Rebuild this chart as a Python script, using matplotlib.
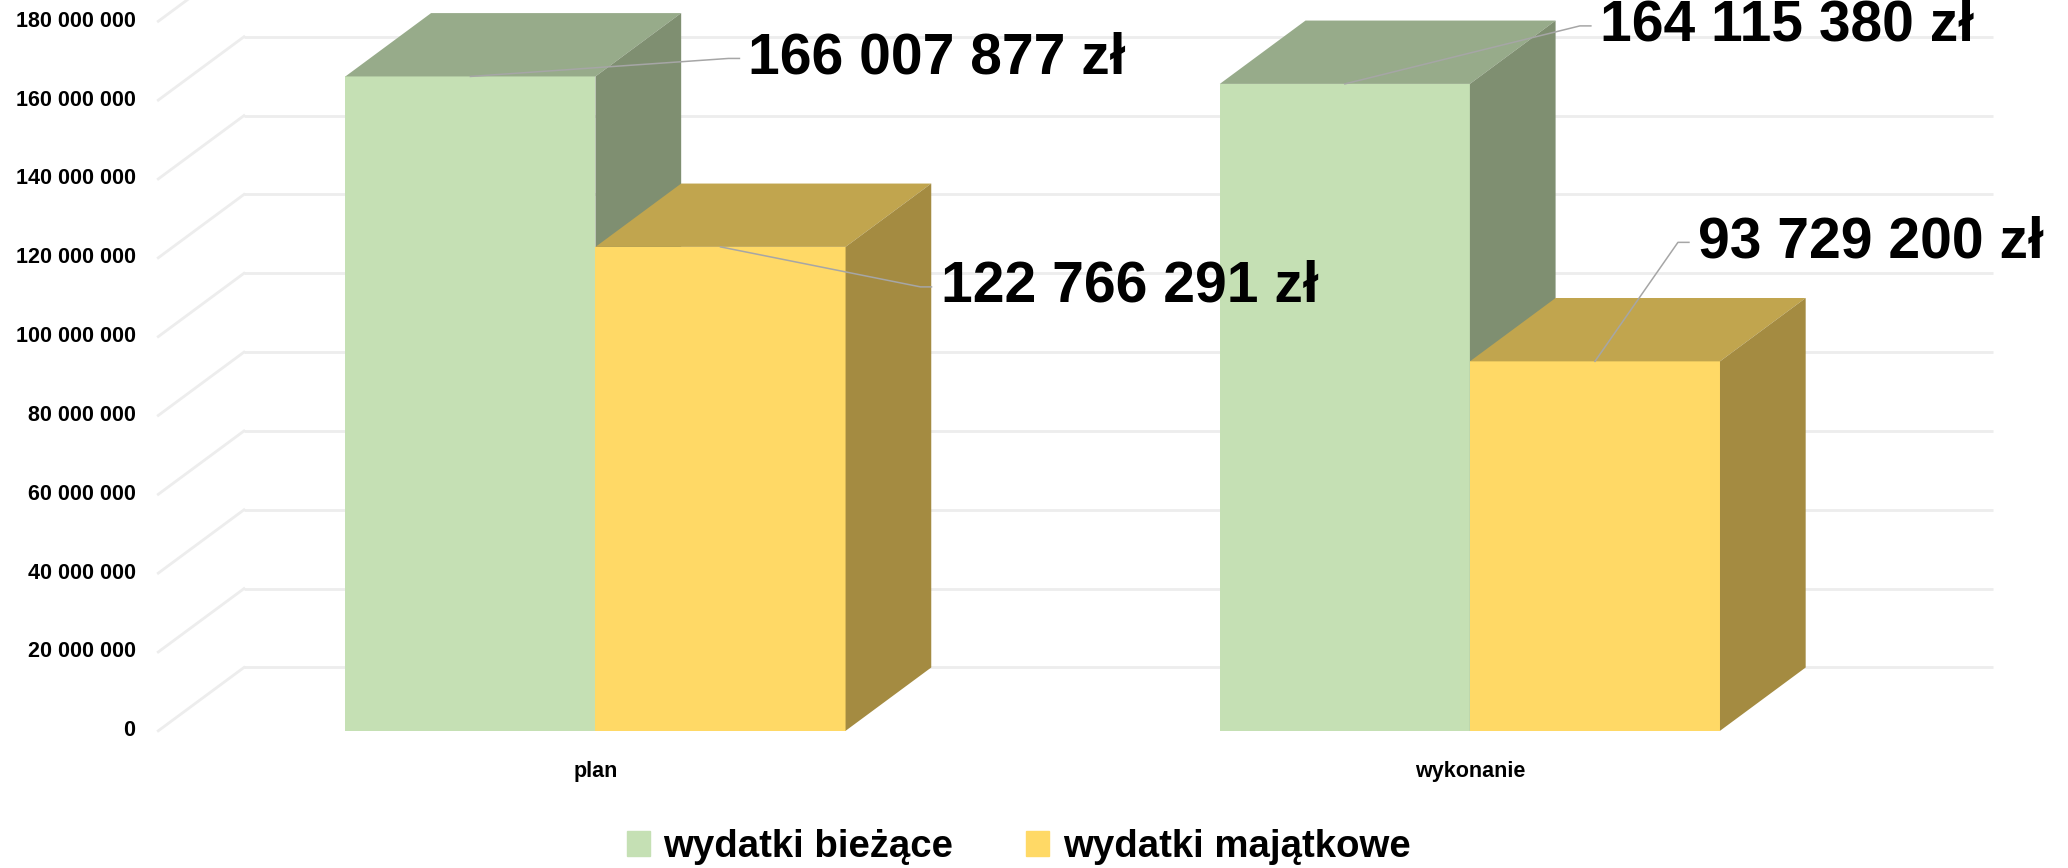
import numpy as np
import matplotlib.pyplot as plt
from matplotlib.patches import Polygon, Patch

plt.rcParams['font.family'] = ['Liberation Sans', 'DejaVu Sans']

categories = ['plan', 'wykonanie']
series_names = ['wydatki bieżące', 'wydatki majątkowe']
biezace = [166007877, 164115380]
majatkowe = [122766291, 93729200]
y_ticks = list(range(0, 180000001, 20000000))

# colours: front, top, side
green = ('#C5E0B4', '#97AB8A', '#7F8F71')
yellow = ('#FFD966', '#C1A54E', '#A48B41')

# pseudo-3D geometry (data units)
bar_w = 0.286
depth_x = 0.098
depth_y = 16.07e6

# leader line offsets in px: (dx, dy up), horizontal tail length
leaders = {
    (0, 0): (258, 18),
    (0, 1): (200, -40),
    (1, 0): (235, 58),
    (1, 1): (83, 119),
}

fig = plt.figure(figsize=(20.68, 8.68), dpi=100)
ax = fig.add_axes([0, 0, 1, 1])
ax.set_xlim(-0.681, 1.684)
ax.set_ylim(-34.8e6, 185.4e6)
ax.axis('off')

x = np.arange(len(categories))

# back wall grid + left wall diagonals
grid_c = '#EDEDED'
for v in y_ticks:
    ax.plot([-0.5 + depth_x, 1.5 + depth_x], [v + depth_y, v + depth_y],
            color=grid_c, lw=2, zorder=1, solid_capstyle='butt')
    ax.plot([-0.5, -0.5 + depth_x], [v, v + depth_y], color=grid_c, lw=2, zorder=1)
    ax.text(-0.526, v, f"{v:,}".replace(',', ' '), ha='right', va='center',
            fontsize=15.5, fontweight='bold')


def draw_bar(left, value, cols):
    ax.bar(left, value, width=bar_w, align='edge', color=cols[0], zorder=3)
    right = left + bar_w
    top = Polygon([(left, value), (right, value),
                   (right + depth_x, value + depth_y), (left + depth_x, value + depth_y)],
                  closed=True, facecolor=cols[1], edgecolor='none', zorder=3)
    side = Polygon([(right, 0), (right, value),
                    (right + depth_x, value + depth_y), (right + depth_x, depth_y)],
                   closed=True, facecolor=cols[2], edgecolor='none', zorder=3)
    ax.add_patch(top)
    ax.add_patch(side)


for i in range(len(categories)):
    draw_bar(x[i] - bar_w, biezace[i], green)
    draw_bar(x[i], majatkowe[i], yellow)
    ax.text(x[i], -10.4e6, categories[i], ha='center', va='center',
            fontsize=15.5, fontweight='bold')

# data labels with leader lines
fig.canvas.draw()
to_px = ax.transData
to_data = ax.transData.inverted()
for (i, s), (dx, dy) in leaders.items():
    vals = biezace if s == 0 else majatkowe
    cx = x[i] - bar_w / 2 if s == 0 else x[i] + bar_w / 2
    p0 = to_px.transform((cx, vals[i]))
    pts = np.array([p0, p0 + [dx, dy], p0 + [dx + 11, dy]])
    d = to_data.transform(pts)
    ax.plot(d[:, 0], d[:, 1], color='#A6A6A6', lw=1.1, zorder=4)
    tx = to_data.transform(p0 + [dx + 20, dy])
    ax.text(tx[0], tx[1], f"{vals[i]:,}".replace(',', ' ') + ' zł',
            ha='left', va='center', fontsize=41, fontweight='bold', zorder=5)

handles = [Patch(color=green[0]), Patch(color=yellow[0])]
fig.legend(handles, series_names, loc='center', bbox_to_anchor=(0.4926, 0.0243),
           ncol=2, frameon=False, prop={'weight': 'bold', 'size': 27.6},
           handlelength=0.6, handleheight=0.6, handletextpad=0.35, columnspacing=1.9)

fig.savefig('out.png', dpi=100)
